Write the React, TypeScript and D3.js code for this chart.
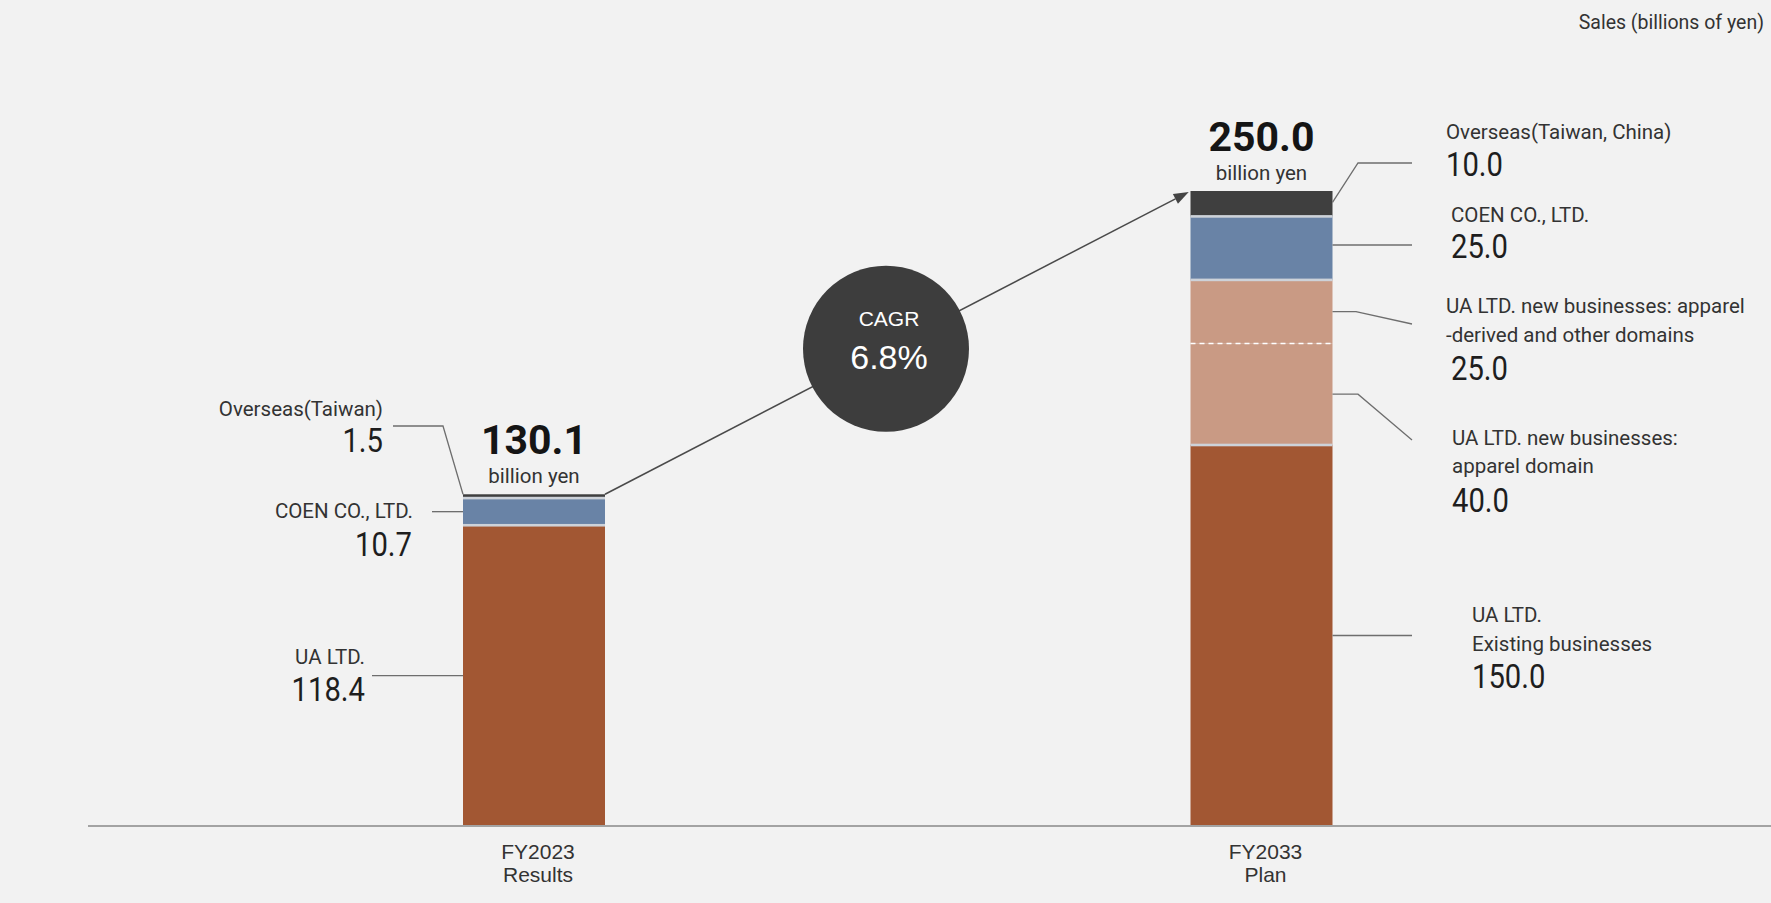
import React from 'react';
import * as d3 from 'd3';

// ---------- data ----------
const categories = ['FY2023', 'FY2033'];
const categorySubLabels = ['Results', 'Plan'];
const segmentKeys = ['existing', 'apparel', 'derived', 'coen', 'overseas'];
const valuesFY2023 = [118.4, 0, 0, 10.7, 1.5];
const valuesFY2033 = [150.0, 40.0, 25.0, 25.0, 10.0];
const totalLabels = ['130.1', '250.0'];
const totalUnit = 'billion yen';
const cagrLabel = 'CAGR';
const cagrValue = '6.8%';
const unitTitle = 'Sales (billions of yen)';
const leftNames: Record<string, string[]> = {
  overseas: ['Overseas(Taiwan)'],
  coen: ['COEN CO., LTD.'],
  existing: ['UA LTD.'],
};
const rightNames: Record<string, string[]> = {
  overseas: ['Overseas(Taiwan, China)'],
  coen: ['COEN CO., LTD.'],
  derived: ['UA LTD. new businesses: apparel', '-derived and other domains'],
  apparel: ['UA LTD. new businesses:', 'apparel domain'],
  existing: ['UA LTD.', 'Existing businesses'],
};

// ---------- styles ----------
const colors: Record<string, string> = {
  existing: '#A25733',
  apparel: '#C99A84',
  derived: '#C99A84',
  coen: '#6983A6',
  overseas: '#3F3F3F',
};
const BG = '#F2F2F2';
const LABEL_FONT = 'Roboto, "Noto Sans", sans-serif';
const ARIAL = '"Liberation Sans", Arial, sans-serif';
const NAME_SIZE = 20.5;

// layout of the annotation leaders (pixels)
const leftLayout: Record<string, any> = {
  overseas: { frac: 1, endX: 393, elbowX: 443, elbowY: 426, nameX: 383, nameY: [416], valX: 383, valY: 452 },
  coen: { frac: 0.5, endX: 432, nameX: 413, nameY: [518], valX: 412, valY: 556 },
  existing: { frac: 0.5, endX: 372, nameX: 365, nameY: [664], valX: 365, valY: 701 },
};
const rightLayout: Record<string, any> = {
  overseas: { frac: 0.55, elbowX: 1358, elbowY: 163, endX: 1412, endY: 163, nameX: 1446, nameY: [139], valX: 1446, valY: 176 },
  coen: { frac: 0.55, endX: 1412, nameX: 1451, nameY: [222], valX: 1451, valY: 258 },
  derived: { frac: 0.5, elbowX: 1356, endX: 1412, endY: 324, nameX: 1446, nameY: [313, 342], valX: 1451, valY: 380 },
  apparel: { frac: 0.5, elbowX: 1358, endX: 1412, endY: 440, nameX: 1452, nameY: [445, 473], valX: 1452, valY: 512 },
  existing: { frac: 0.5, endX: 1412, nameX: 1472, nameY: [622, 651], valX: 1472, valY: 688 },
};

const W = 1771;
const H = 903;

export default function App() {
  const allValues = [valuesFY2023, valuesFY2033];
  const rows = categories.map((c, i) => {
    const r: any = { cat: c };
    segmentKeys.forEach((k, j) => (r[k] = allValues[i][j]));
    return r;
  });
  const stacked = d3.stack<any>().keys(segmentKeys)(rows);
  const sums = allValues.map((v) => d3.sum(v));

  const y = d3.scaleLinear().domain([0, 250]).range([826, 191]);
  const x = d3.scalePoint<string>().domain(categories).range([534, 1261.5]);
  const barW = 142;

  const bars: JSX.Element[] = [];
  const seps: JSX.Element[] = [];
  stacked.forEach((layer) => {
    layer.forEach((d, i) => {
      const [lo, hi] = d;
      if (hi - lo <= 0) return;
      const cx = x(categories[i])!;
      bars.push(
        <rect
          key={`${layer.key}-${i}`}
          x={cx - barW / 2}
          y={y(hi)}
          width={barW}
          height={y(lo) - y(hi)}
          fill={colors[layer.key as string]}
        />
      );
    });
  });
  // separators between segments
  categories.forEach((c, i) => {
    const cx = x(c)!;
    let prevKey: string | null = null;
    stacked.forEach((layer) => {
      const d = layer[i];
      if (d[1] - d[0] <= 0) return;
      if (prevKey !== null) {
        const yy = y(d[0]);
        if (colors[prevKey] === colors[layer.key as string]) {
          seps.push(
            <line key={`sep-${i}-${layer.key}`} x1={cx - barW / 2} x2={cx + barW / 2} y1={yy} y2={yy}
              stroke="#FFFFFF" strokeWidth={1.5} strokeDasharray="5 4" />
          );
        } else {
          seps.push(
            <rect key={`sep-${i}-${layer.key}`} x={cx - barW / 2} y={yy - 1.3} width={barW} height={2.6} fill="#CDD2D9" />
          );
        }
      }
      prevKey = layer.key as string;
    });
  });

  // arrow
  const ax1 = x(categories[0])! + barW / 2;
  const ay1 = y(sums[0]);
  const ax2 = x(categories[1])! - barW / 2;
  const ay2 = y(sums[1]);
  const ang = Math.atan2(ay2 - ay1, ax2 - ax1);
  const ahL = 15;
  const ahW = 5.5;
  const tipX = ax2 - 2 * Math.cos(ang);
  const tipY = ay2 - 2 * Math.sin(ang);
  const bx = tipX - ahL * Math.cos(ang);
  const by = tipY - ahL * Math.sin(ang);
  const arrowHead = [
    [tipX, tipY],
    [bx + ahW * Math.sin(ang), by - ahW * Math.cos(ang)],
    [bx - ahW * Math.sin(ang), by + ahW * Math.cos(ang)],
  ];
  const circX = 886;
  const circY = ay1 + (circX - ax1) * Math.tan(ang);

  const segOf = (catIdx: number, key: string) => {
    const layer = stacked.find((l) => l.key === key)!;
    return layer[catIdx];
  };
  const fmt = d3.format('.1f');

  const numberText = (key: string, tx: number, ty: number, anchor: string, val: number) => (
    <text
      key={key}
      transform={`translate(${tx},${ty}) scale(0.86,1)`}
      textAnchor={anchor}
      fontFamily={LABEL_FONT}
      fontSize={34}
      fill="#1E1E1E"
    >
      {fmt(val)}
    </text>
  );

  const annotations: JSX.Element[] = [];
  // left (FY2023)
  Object.keys(leftLayout).forEach((k) => {
    const L = leftLayout[k];
    const d = segOf(0, k);
    const ayy = y(d[0] + L.frac * (d[1] - d[0]));
    const bxl = x(categories[0])! - barW / 2;
    const pts = L.elbowX !== undefined
      ? [[L.endX, L.elbowY], [L.elbowX, L.elbowY], [bxl, ayy]]
      : [[L.endX, ayy], [bxl, ayy]];
    annotations.push(
      <path key={`l-lead-${k}`} d={d3.line()(pts as [number, number][])!} fill="none" stroke="#6E6E6E" strokeWidth={1.3} />
    );
    leftNames[k].forEach((t, j) =>
      annotations.push(
        <text key={`l-name-${k}-${j}`} x={L.nameX} y={L.nameY[j]} textAnchor="end" fontFamily={LABEL_FONT} fontSize={NAME_SIZE} fill="#333">
          {t}
        </text>
      )
    );
    annotations.push(numberText(`l-val-${k}`, L.valX, L.valY, 'end', d[1] - d[0]));
  });
  // right (FY2033)
  Object.keys(rightLayout).forEach((k) => {
    const L = rightLayout[k];
    const d = segOf(1, k);
    const ayy = y(d[0] + L.frac * (d[1] - d[0]));
    const bxr = x(categories[1])! + barW / 2;
    let pts: number[][];
    if (L.elbowY !== undefined) pts = [[bxr, ayy], [L.elbowX, L.elbowY], [L.endX, L.endY]];
    else if (L.elbowX !== undefined) pts = [[bxr, ayy], [L.elbowX, ayy], [L.endX, L.endY]];
    else pts = [[bxr, ayy], [L.endX, ayy]];
    annotations.push(
      <path key={`r-lead-${k}`} d={d3.line()(pts as [number, number][])!} fill="none" stroke="#6E6E6E" strokeWidth={1.3} />
    );
    rightNames[k].forEach((t, j) =>
      annotations.push(
        <text key={`r-name-${k}-${j}`} x={L.nameX} y={L.nameY[j]} textAnchor="start" fontFamily={LABEL_FONT} fontSize={NAME_SIZE} fill="#333">
          {t}
        </text>
      )
    );
    annotations.push(numberText(`r-val-${k}`, L.valX, L.valY, 'start', d[1] - d[0]));
  });

  return (
    <svg
      width={W}
      height={H}
      style={{ position: 'absolute', left: 0, top: 0, display: 'block' }}
      xmlns="http://www.w3.org/2000/svg"
    >
      <rect x={0} y={0} width={W} height={H} fill={BG} />
      <text x={1764} y={29} textAnchor="end" fontFamily={LABEL_FONT} fontSize={19.5} fill="#333">
        {unitTitle}
      </text>

      {/* arrow */}
      <line x1={ax1} y1={ay1} x2={bx} y2={by} stroke="#4A4A4A" strokeWidth={1.5} />
      <polygon points={arrowHead.map((p) => p.join(',')).join(' ')} fill="#444" />

      {/* CAGR circle */}
      <circle cx={circX} cy={circY} r={83} fill="#3D3D3D" />
      <text x={circX + 3} y={circY - 23} textAnchor="middle" fontFamily={ARIAL} fontSize={21} fill="#FFFFFF">
        {cagrLabel}
      </text>
      <text x={circX + 3} y={circY + 20} textAnchor="middle" fontFamily={ARIAL} fontSize={34} fill="#FFFFFF">
        {cagrValue}
      </text>

      {/* bars */}
      {bars}
      {seps}

      {/* totals */}
      {categories.map((c, i) => (
        <g key={`tot-${c}`}>
          <text x={x(c)!} y={y(sums[i]) - 40} textAnchor="middle" fontFamily={LABEL_FONT} fontWeight={700} fontSize={41} fill="#151515">
            {totalLabels[i]}
          </text>
          <text x={x(c)!} y={y(sums[i]) - 11} textAnchor="middle" fontFamily={LABEL_FONT} fontSize={20.5} fill="#333">
            {totalUnit}
          </text>
        </g>
      ))}

      {annotations}

      {/* x axis */}
      <line x1={88} x2={W} y1={y(0)} y2={y(0)} stroke="#A3A3A3" strokeWidth={2} />
      {categories.map((c, i) => (
        <g key={`xl-${c}`}>
          <text x={x(c)! + 4} y={859} textAnchor="middle" fontFamily={ARIAL} fontSize={21} fill="#333">
            {c}
          </text>
          <text x={x(c)! + 4} y={882} textAnchor="middle" fontFamily={ARIAL} fontSize={21} fill="#333">
            {categorySubLabels[i]}
          </text>
        </g>
      ))}
    </svg>
  );
}
